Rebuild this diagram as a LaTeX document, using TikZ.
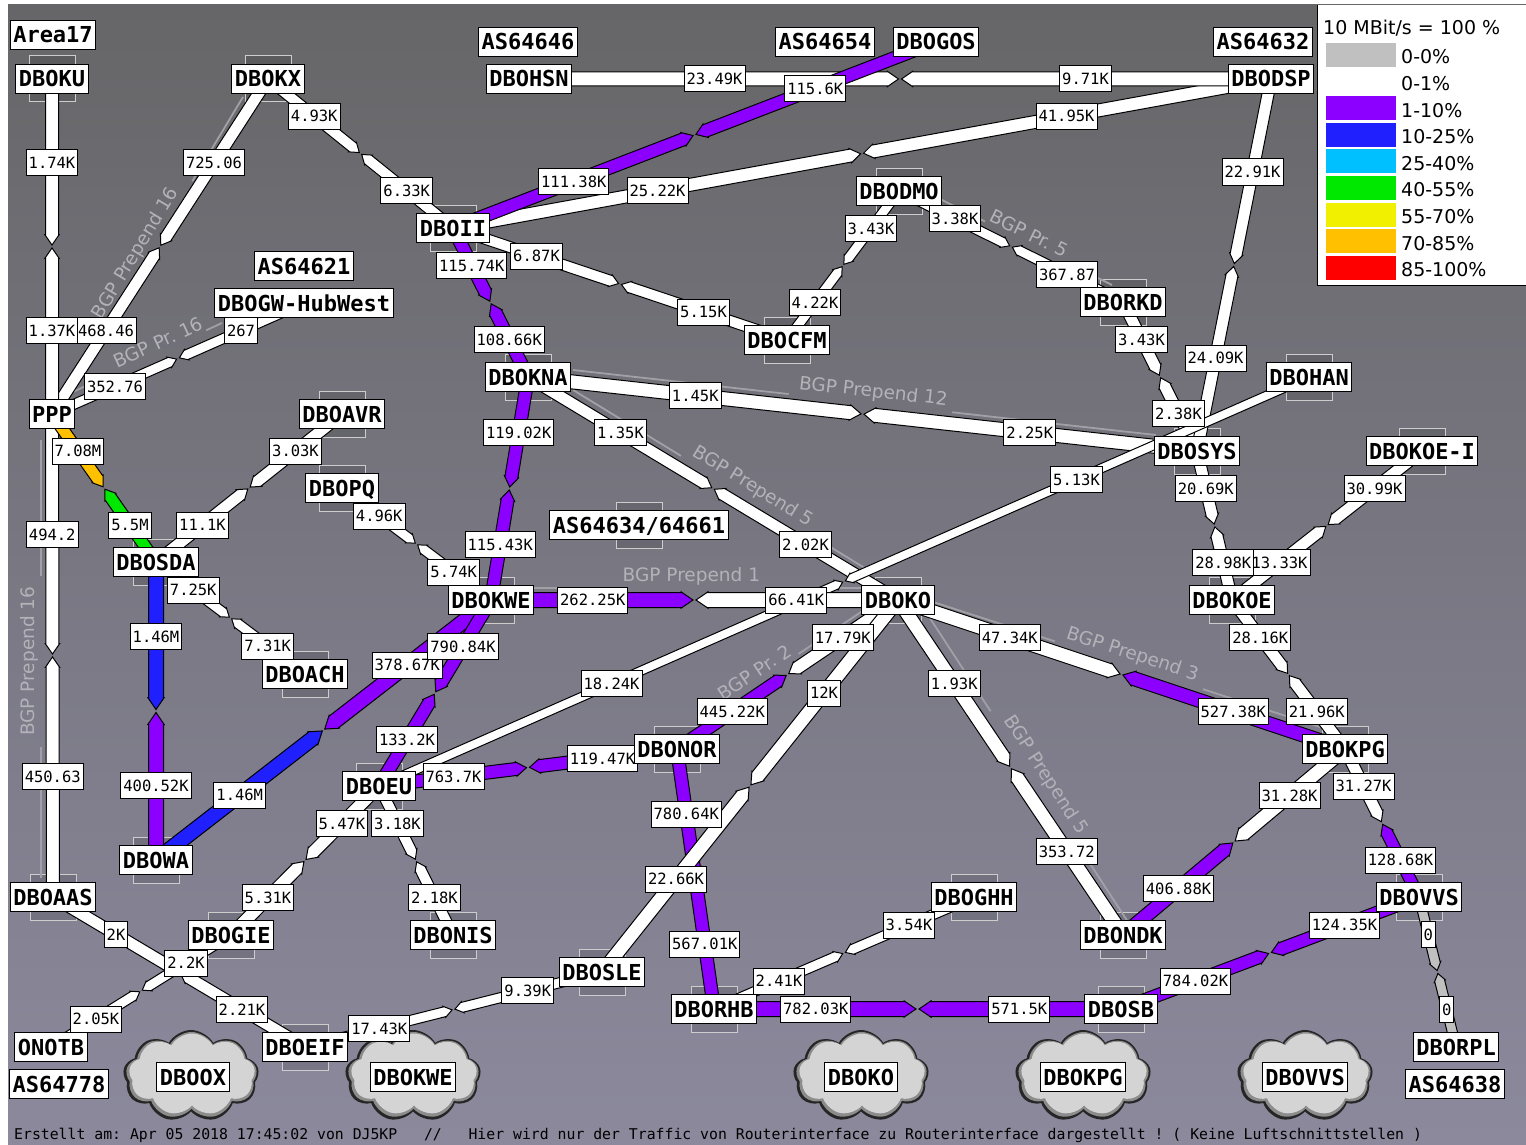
\documentclass[tikz,border=0pt]{standalone}
\usepackage{fontspec}
\newfontfamily\wmono{DejaVu Sans Mono}
\newfontfamily\wmonob{DejaVu Sans Mono Bold}
\newfontfamily\wsans{DejaVu Sans}
\usetikzlibrary{calc,shapes.symbols}
\definecolor{wpurple}{RGB}{140,0,255}
\definecolor{wblue}{RGB}{32,32,255}
\definecolor{wcyan}{RGB}{0,192,255}
\definecolor{wgreen}{RGB}{0,232,0}
\definecolor{wyellow}{RGB}{240,240,0}
\definecolor{worange}{RGB}{255,192,0}
\definecolor{wred}{RGB}{255,0,0}
\definecolor{wgray}{RGB}{192,192,192}
\definecolor{bgtop}{RGB}{102,102,104}
\definecolor{bgbot}{RGB}{140,137,157}
\definecolor{bgpline}{RGB}{160,160,166}
\definecolor{bgptext}{RGB}{178,178,184}
\definecolor{iconline}{RGB}{205,205,205}
\definecolor{cloudfill}{RGB}{212,212,212}
\pgfdeclarelayer{bgl}
\pgfdeclarelayer{icons}
\pgfdeclarelayer{bgpl}
\pgfdeclarelayer{links}
\pgfdeclarelayer{bwl}
\pgfsetlayers{bgl,icons,bgpl,links,bwl,main}
\newcounter{wl}
% one half of a link: from #1 to the middle #2, colour #3, half width #4
\newcommand\whalf[4]{%
  \pgfmathsetmacro\wHW{#4}%
  \pgfmathsetmacro\wHS{#4+0.7}%
  \pgfmathsetmacro\wHL{1.6*#4}%
  \coordinate (wtip) at ($(#2)!1.5pt!(#1)$);
  \coordinate (wbase) at ($(wtip)!\wHL pt!(#1)$);
  \filldraw[fill=#3,draw=black,line width=1pt,line join=miter]
    ($(#1)!\wHW pt!90:(wtip)$) -- ($(wbase)!\wHW pt!90:(wtip)$) --
    ($(wbase)!\wHS pt!90:(wtip)$) -- (wtip) --
    ($(wbase)!\wHS pt!-90:(wtip)$) -- ($(wbase)!\wHW pt!-90:(wtip)$) --
    ($(#1)!\wHW pt!-90:(wtip)$) -- cycle;
}
% a link: #1,#2 nodes, #3,#4 colours, #5 half width, #6,#7 labels
\newcommand\wlink[7]{%
  \begin{pgfonlayer}{links}
    \coordinate (wmid) at ($(#1)!0.5!(#2)$);
    \whalf{#1}{wmid}{#3}{#5}
    \whalf{#2}{wmid}{#4}{#5}
  \end{pgfonlayer}
  \stepcounter{wl}%
  \begin{pgfonlayer}{bwl}
    \node[bw] (bw\thewl a) at ($(#1)!0.25!(#2)$) {#6};
    \node[bw] (bw\thewl b) at ($(#1)!0.75!(#2)$) {#7};
  \end{pgfonlayer}
}
\newcommand\bgpnote[7]{%
  \draw[bgp] (#2) -- ($(#2)!#4!(#3)$) ($(#2)!#5!(#3)$) -- (#3);
  \path (#2) -- (#3) node[bgptxt,pos=#6,sloped,above=1pt] (#1) {#7};
}
\frenchspacing
\begin{document}
\begin{tikzpicture}[x=1pt,y=-1pt,
  nd/.style={draw=black,fill=white,line width=1pt,inner xsep=3pt,inner ysep=0pt,
    minimum height=29pt,text height=16pt,text depth=0pt,font=\wmonob\fontsize{22}{22}\selectfont},
  bw/.style={draw=black,fill=white,line width=1pt,inner xsep=2.5pt,inner ysep=0pt,
    minimum height=26pt,text height=11.5pt,text depth=0pt,font=\wmono\fontsize{15.5}{15.5}\selectfont},
  icon/.style={draw=iconline,fill=black,fill opacity=0.12,line width=1pt,
    minimum width=46pt,minimum height=46pt,inner sep=0pt},
  bgp/.style={draw=bgpline,line width=1.8pt},
  bgptxt/.style={text=bgptext,font=\wsans\fontsize{18.5}{18.5}\selectfont,inner sep=1pt},
  cloudshape/.style={cloud,cloud puffs=9,cloud puff arc=120,aspect=1.5,inner sep=0pt},
  swatch/.style={minimum width=70pt,minimum height=24pt,inner sep=0pt},
  legtxt/.style={font=\wsans\fontsize{19}{19}\selectfont,inner sep=0pt,anchor=west},
]
\useasboundingbox (0,0) rectangle (1526,1145);
\begin{pgfonlayer}{bgl}
  \fill[white] (0,0) rectangle (1526,1145);
  \shade[top color=bgtop,bottom color=bgbot] (8,5) rectangle (1526,1145);
\end{pgfonlayer}

% ---------------- nodes ----------------
\node[nd] (Area17) at (53,35) {Area17};
\node[nd] (DBOKU) at (52,79) {DBOKU};
\node[nd] (DBOKX) at (268,79) {DBOKX};
\node[nd] (AS64646) at (528,42) {AS64646};
\node[nd] (DBOHSN) at (529,79) {DBOHSN};
\node[nd] (AS64654) at (825,42) {AS64654};
\node[nd] (DBOGOS) at (936,42) {DBOGOS};
\node[nd] (AS64632) at (1263,42) {AS64632};
\node[nd] (DBODSP) at (1271,79) {DBODSP};
\node[nd] (DBOII) at (453,228) {DBOII};
\node[nd] (DBODMO) at (899,191) {DBODMO};
\node[nd] (AS64621) at (304,266) {AS64621};
\node[nd] (DBOGW) at (304,303) {DBOGW-HubWest};
\node[nd] (DBORKD) at (1123,302) {DBORKD};
\node[nd] (DBOCFM) at (787,340) {DBOCFM};
\node[nd] (DBOKNA) at (528,377) {DBOKNA};
\node[nd] (DBOHAN) at (1309,377) {DBOHAN};
\node[nd] (PPP) at (52,414) {PPP};
\node[nd] (DBOAVR) at (342,414) {DBOAVR};
\node[nd] (DBOSYS) at (1197,451) {DBOSYS};
\node[nd] (KOEI) at (1422,451) {DBOKOE-I};
\node[nd] (DBOPQ) at (342,488) {DBOPQ};
\node[nd] (AS64634) at (639,525) {AS64634/64661};
\node[nd] (DBOSDA) at (156,562) {DBOSDA};
\node[nd] (DBOKWE) at (491,600) {DBOKWE};
\node[nd] (DBOKO) at (898,600) {DBOKO};
\node[nd] (DBOKOE) at (1232,600) {DBOKOE};
\node[nd] (DBOACH) at (305,674) {DBOACH};
\node[nd] (DBONOR) at (677,749) {DBONOR};
\node[nd] (DBOKPG) at (1345,749) {DBOKPG};
\node[nd] (DBOEU) at (379,786) {DBOEU};
\node[nd] (DBOWA) at (156,860) {DBOWA};
\node[nd] (DBOAAS) at (53,897) {DBOAAS};
\node[nd] (DBOGIE) at (231,935) {DBOGIE};
\node[nd] (DBONIS) at (453,935) {DBONIS};
\node[nd] (DBOGHH) at (974,897) {DBOGHH};
\node[nd] (DBONDK) at (1123,935) {DBONDK};
\node[nd] (DBOVVS) at (1419,897) {DBOVVS};
\node[nd] (DBOSLE) at (602,972) {DBOSLE};
\node[nd] (DBORHB) at (714,1009) {DBORHB};
\node[nd] (DBOSB) at (1121,1009) {DBOSB};
\node[nd] (ONOTB) at (51,1047) {ONOTB};
\node[nd] (DBOEIF) at (305,1047) {DBOEIF};
\node[nd] (DBORPL) at (1456,1047) {DBORPL};
\node[nd] (AS64778) at (59,1084) {AS64778};
\node[nd] (AS64638) at (1455,1084) {AS64638};

% clouds
\begin{pgfonlayer}{bgpl}
\foreach \cx/\cn in {191/A,413/B,861/C,1083/D,1305/E}{
  \node[cloudshape,fill=black!85,minimum width=136pt,minimum height=92pt] (cloud\cn o) at (\cx,1076) {};
  \node[cloudshape,fill=black!45,minimum width=131pt,minimum height=87pt] (cloud\cn m) at (\cx+0.5,1075.5) {};
  \node[cloudshape,fill=cloudfill,minimum width=126pt,minimum height=82pt] (cloud\cn i) at (\cx+1,1074.5) {};
}
\end{pgfonlayer}
\node[nd] (clDBOOX) at (193,1077) {DBOOX};
\node[nd] (clDBOKWE) at (413,1077) {DBOKWE};
\node[nd] (clDBOKO) at (861,1077) {DBOKO};
\node[nd] (clDBOKPG) at (1083,1077) {DBOKPG};
\node[nd] (clDBOVVS) at (1305,1077) {DBOVVS};

% icons
\begin{pgfonlayer}{icons}
\foreach \n in {DBOKU,DBOKX,DBOII,DBODMO,DBORKD,DBOCFM,DBOKNA,DBOHAN,DBOAVR,DBOSYS,KOEI,DBOPQ,AS64634,DBOSDA,DBOKWE,DBOKO,DBOKOE,DBOACH,DBONOR,DBOKPG,DBOEU,DBOWA,DBOAAS,DBOGIE,DBONIS,DBOGHH,DBONDK,DBOVVS,DBOSLE,DBORHB,DBOSB,DBOEIF}
  \node[icon] (\n-icon) at (\n) {};
\end{pgfonlayer}

% BGP annotations
\begin{pgfonlayer}{bgpl}
\bgpnote{bgpA}{62,398}{243,97}{0.2}{0.72}{0.46}{BGP Prepend 16}
\bgpnote{bgpB}{64,396}{222,323}{0.29}{0.9}{0.62}{BGP Pr. 16}
\bgpnote{bgpC}{41,878}{41,440}{0.3}{0.69}{0.495}{BGP Prepend 16}
\bgpnote{bgpD}{938,198}{1112,285}{0.27}{0.75}{0.5}{BGP Pr. 5}
\bgpnote{bgpE}{573,370}{1156,435}{0.37}{0.65}{0.513}{BGP Prepend 12}
\bgpnote{bgpF}{573,390}{873,573}{0.36}{0.85}{0.58}{BGP Prepend 5}
\bgpnote{bgpG}{533,588}{870,588}{0.25}{0.70}{0.47}{BGP Prepend 1}
\bgpnote{bgpH}{700,720}{870,606}{0.13}{0.58}{0.35}{BGP Pr. 2}
\bgpnote{bgpI}{930,601}{1320,727}{0.32}{0.70}{0.51}{BGP Prepend 3}
\bgpnote{bgpJ}{922,606}{1130,925}{0.33}{0.8}{0.55}{BGP Prepend 5}
\end{pgfonlayer}

% ---------------- links ----------------
\wlink{DBOII}{DBODSP}{white}{white}{6.5}{25.22K}{41.95K}
\wlink{DBOHSN}{DBODSP}{white}{white}{7}{23.49K}{9.71K}
\wlink{DBOII}{DBOGOS}{wpurple}{wpurple}{6.5}{111.38K}{115.6K}
\wlink{DBOKX}{DBOII}{white}{white}{5.5}{4.93K}{6.33K}
\wlink{DBOKX}{PPP}{white}{white}{6}{725.06}{468.46}
\wlink{DBOGW}{PPP}{white}{white}{5}{267}{352.76}
\wlink{DBOKU}{PPP}{white}{white}{6.5}{1.74K}{1.37K}
\wlink{PPP}{DBOAAS}{white}{white}{6.5}{494.2}{450.63}
\wlink{PPP}{DBOSDA}{worange}{wgreen}{6}{7.08M}{5.5M}
\wlink{DBOII}{DBOCFM}{white}{white}{5.5}{6.87K}{5.15K}
\wlink{DBODMO}{DBOCFM}{white}{white}{5}{3.43K}{4.22K}
\wlink{DBODMO}{DBORKD}{white}{white}{5}{3.38K}{367.87}
\wlink{DBOII}{DBOKNA}{wpurple}{wpurple}{6.5}{115.74K}{108.66K}
\wlink{DBOKNA}{DBOSYS}{white}{white}{7}{1.45K}{2.25K}
\wlink{DBOKNA}{DBOKO}{white}{white}{6}{1.35K}{2.02K}
\wlink{DBOKNA}{DBOKWE}{wpurple}{wpurple}{6.5}{119.02K}{115.43K}
\wlink{DBORKD}{DBOSYS}{white}{white}{6}{3.43K}{2.38K}
\wlink{DBODSP}{DBOSYS}{white}{white}{6}{22.91K}{24.09K}
\wlink{DBOEU}{DBOHAN}{white}{white}{4.5}{18.24K}{5.13K}
\wlink{DBOKWE}{DBOKO}{wpurple}{white}{7.5}{262.25K}{66.41K}
\wlink{DBOSDA}{DBOAVR}{white}{white}{6}{11.1K}{3.03K}
\wlink{DBOSDA}{DBOACH}{white}{white}{5}{7.25K}{7.31K}
\wlink{DBOPQ}{DBOKWE}{white}{white}{5}{4.96K}{5.74K}
\wlink{DBOSDA}{DBOWA}{wblue}{wpurple}{7.5}{1.46M}{400.52K}
\wlink{DBOWA}{DBOKWE}{wblue}{wpurple}{7.5}{1.46M}{378.67K}
\wlink{DBOKWE}{DBOEU}{wpurple}{wpurple}{6.5}{790.84K}{133.2K}
\wlink{DBOEU}{DBONOR}{wpurple}{wpurple}{6.5}{763.7K}{119.47K}
\wlink{DBOEU}{DBOGIE}{white}{white}{6.5}{5.47K}{5.31K}
\wlink{DBOEU}{DBONIS}{white}{white}{5.5}{3.18K}{2.18K}
\wlink{DBOKO}{DBONOR}{white}{wpurple}{6.5}{17.79K}{445.22K}
\wlink{DBONOR}{DBORHB}{wpurple}{wpurple}{6.5}{780.64K}{567.01K}
\wlink{DBOKO}{DBOSLE}{white}{white}{7}{12K}{22.66K}
\wlink{DBOKO}{DBOKPG}{white}{wpurple}{7}{47.34K}{527.38K}
\wlink{DBOKO}{DBONDK}{white}{white}{7}{1.93K}{353.72}
\wlink{KOEI}{DBOKOE}{white}{white}{6}{30.99K}{13.33K}
\wlink{DBOSYS}{DBOKOE}{white}{white}{6}{20.69K}{28.98K}
\wlink{DBOKOE}{DBOKPG}{white}{white}{6}{28.16K}{21.96K}
\wlink{DBOKPG}{DBONDK}{white}{wpurple}{7}{31.28K}{406.88K}
\wlink{DBOKPG}{DBOVVS}{white}{wpurple}{6}{31.27K}{128.68K}
\wlink{DBOVVS}{DBOSB}{wpurple}{wpurple}{6.5}{124.35K}{784.02K}
\wlink{DBOVVS}{DBORPL}{wgray}{wgray}{5}{0}{0}
\wlink{DBORHB}{DBOSB}{wpurple}{wpurple}{7.5}{782.03K}{571.5K}
\wlink{DBORHB}{DBOGHH}{white}{white}{5}{2.41K}{3.54K}
\wlink{DBOSLE}{DBOEIF}{white}{white}{5}{9.39K}{17.43K}
\wlink{DBOAAS}{DBOEIF}{white}{white}{6}{2K}{2.21K}
\wlink{DBOGIE}{ONOTB}{white}{white}{5}{2.2K}{2.05K}

% ---------------- legend ----------------
\fill[white] (1317,5) rectangle (1526,285);
\draw[line width=1pt] (1317,5) -- (1317,285) -- (1526,285);
\node[legtxt] (legtitle) at (1323,28) {10 MBit/s = 100 \%};
\foreach \i/\c/\t in {0/wgray/0-0\%,1/white/0-1\%,2/wpurple/1-10\%,3/wblue/10-25\%,4/wcyan/25-40\%,5/wgreen/40-55\%,6/wyellow/55-70\%,7/worange/70-85\%,8/wred/85-100\%}{
  \node[swatch,fill=\c] (sw\i) at (1361,55+26.6*\i) {};
  \node[legtxt] (lg\i) at (1401,57+26.6*\i) {\t};
}

% ---------------- footer ----------------
\node[anchor=west,inner sep=0pt,font=\wmono\fontsize{14.8}{14.8}\selectfont] (footer) at (14,1135)
  {Erstellt am: Apr 05 2018 17:45:02 von DJ5KP\ \ \ //\ \ \ Hier wird nur der Traffic von Routerinterface zu Routerinterface dargestellt ! ( Keine Luftschnittstellen )};
\end{tikzpicture}
\end{document}
